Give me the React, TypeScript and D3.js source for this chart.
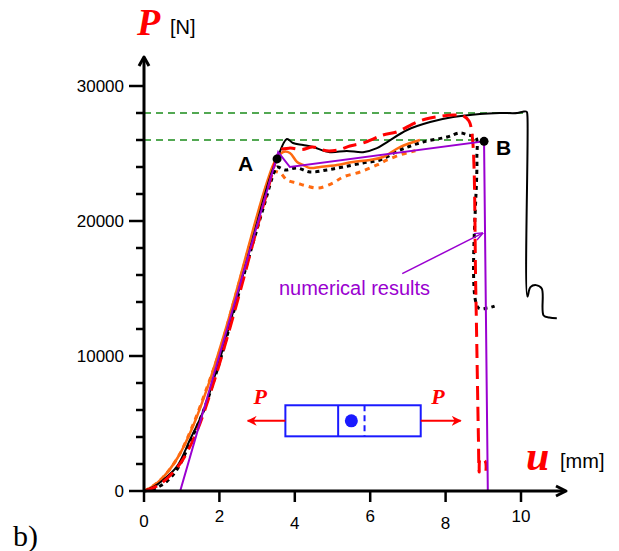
import React from "react";
import * as d3 from "d3";

// ---------- data (u [mm], P [N]) ----------
const xTicks = [0, 2, 4, 6, 8, 10];
const yTicks = [0, 10000, 20000, 30000];
const yMinorTicks = [2000, 4000, 6000, 8000, 12000, 14000, 16000, 18000, 22000, 24000, 26000, 28000];
const refLevels = [28000, 26000];

const expBlackSolid: [number, number][] = [
  [0, 0], [0.25, 300], [0.5, 800], [0.87, 1800], [1.22, 3800], [1.57, 5900], [1.94, 9100],
  [2.2, 11600], [2.5, 14700], [2.8, 17800], [3.1, 20900], [3.35, 23300], [3.53, 24600],
  [3.79, 26070], [3.95, 25780], [4.22, 25630], [4.48, 25480], [4.93, 25100], [5.38, 25190],
  [5.81, 25100], [6.18, 25400], [6.45, 25850], [6.98, 26740], [7.59, 27330], [8.2, 27700],
  [8.91, 27930], [9.44, 28000], [9.9, 28000], [10.05, 28100], [10.15, 28100], [10.17, 27800],
  [10.17, 14400], [10.25, 15100], [10.4, 15250], [10.55, 15000], [10.6, 13000],
  [10.75, 12850], [10.95, 12800],
];

const expBlackDotted: [number, number][] = [
  [0, 0], [0.3, 200], [0.6, 700], [0.9, 1700], [1.25, 3800], [1.6, 6100], [2.0, 9500],
  [2.4, 13500], [2.8, 17500], [3.2, 21300], [3.45, 23600], [3.53, 24000], [3.74, 23780],
  [4.06, 23930], [4.4, 23630], [4.85, 23780], [5.28, 24000], [5.81, 24300], [6.26, 24520],
  [6.79, 25260], [7.4, 25850], [8.04, 26220], [8.38, 26520], [8.59, 26370], [8.8, 26200],
  [8.83, 24500], [8.86, 13600], [9.1, 13550], [9.3, 13700],
];

const expRedDashed: [number, number][] = [
  [0, 0], [0.3, 300], [0.6, 900], [1.0, 2200], [1.4, 4400], [1.8, 7600], [2.2, 11300],
  [2.6, 15300], [3.0, 19500], [3.3, 22500], [3.52, 24700], [3.61, 25260], [3.87, 25400],
  [4.2, 25300], [4.48, 25480], [4.85, 25200], [5.2, 25300], [5.46, 25560], [5.81, 25780],
  [6.34, 26370], [6.71, 26600], [7.24, 27330], [7.59, 27630], [8.2, 27850], [8.46, 27800],
  [8.62, 27400], [8.71, 26200], [8.8, 15000], [8.87, 4000], [8.89, 1400], [8.92, 2400],
  [9.05, 2200], [9.07, 1500],
];

const expOrangeSolid: [number, number][] = [
  [0, 0], [0.2, 300], [0.5, 1000], [0.9, 2500], [1.3, 4800], [1.7, 7800], [1.94, 9900],
  [2.2, 12300], [2.5, 15300], [2.8, 18400], [3.1, 21400], [3.3, 23200], [3.47, 24400],
  [3.69, 25110], [3.87, 25040], [4.06, 24370], [4.22, 24150], [4.4, 23930], [4.67, 24000],
  [5.12, 24150], [5.54, 24370], [5.99, 24520], [6.34, 24740], [6.79, 25480], [7.32, 26000],
];

const expOrangeDotted: [number, number][] = [
  [0, 0], [0.2, 300], [0.5, 1000], [0.9, 2500], [1.3, 4900], [1.7, 7900], [2.0, 10300],
  [2.4, 14200], [2.8, 18200], [3.1, 21200], [3.3, 23000], [3.42, 23630], [3.61, 23560],
  [3.79, 23040], [4.06, 22810], [4.32, 22590], [4.62, 22440], [5.01, 22810], [5.28, 23260],
  [5.73, 23630], [6.18, 24150], [6.45, 24520], [6.79, 24900], [7.06, 25110], [7.2, 25200],
];

const numerical: [number, number][] = [
  [0.96, 0], [3.56, 25100], [3.87, 24000], [9.02, 25900], [9.12, 0],
];

const pointA: [number, number] = [3.53, 24600];
const pointB: [number, number] = [9.02, 25900];
const annotationText = "numerical results";

// ---------- layout ----------
const W = 619;
const H = 551;
const x = d3.scaleLinear().domain([0, 10]).range([144, 521]);
const y = d3.scaleLinear().domain([0, 30000]).range([491, 86]);

const sans = "Arial, 'Liberation Sans', Helvetica, sans-serif";
const serif = "'Times New Roman', 'Liberation Serif', serif";

const line = d3
  .line<[number, number]>()
  .x((d) => x(d[0]))
  .y((d) => y(d[1]))
  .curve(d3.curveCatmullRom.alpha(0.5));

const straight = d3
  .line<[number, number]>()
  .x((d) => x(d[0]))
  .y((d) => y(d[1]));

export default function App() {
  const x0 = x(0);
  const y0 = y(0);
  const purple = "#9a00d0";
  const red = "#ff0000";
  const orange = "#ff6a10";
  const blue = "#1a1aff";

  // inset drawing positions (in data space)
  const boxL = x(3.75), boxR = x(7.34), boxT = y(6350), boxB = y(4050);
  const boxMid = (boxT + boxB) / 2;
  const divider = x(5.15);
  const dashX = x(5.85);
  const dotX = x(5.5);

  return (
    <svg
      width={W}
      height={H}
      style={{ position: "absolute", left: 0, top: 0, background: "#fff" }}
      xmlns="http://www.w3.org/2000/svg"
    >
      <defs>
        <marker id="arrP" viewBox="0 0 10 10" refX="9" refY="5" markerWidth="5" markerHeight="5" orient="auto">
          <path d="M0,0 L10,5 L0,10 L3,5 Z" fill={red} />
        </marker>
        <marker id="arrV" viewBox="0 0 10 10" refX="9" refY="5" markerWidth="6" markerHeight="6" orient="auto">
          <path d="M0,1 L10,5 L0,9" fill="none" stroke={purple} strokeWidth={1.5} />
        </marker>
      </defs>

      {/* green reference lines */}
      {refLevels.map((v, i) => (
        <line
          key={v}
          x1={x0}
          x2={i === 0 ? x(10.15) : x(pointB[0])}
          y1={y(v)}
          y2={y(v)}
          stroke="#1a8c1a"
          strokeWidth={1.4}
          strokeDasharray="7,5"
        />
      ))}

      {/* curves */}
      <path d={line(expOrangeDotted) || ""} fill="none" stroke={orange} strokeWidth={3} strokeDasharray="5,5" />
      <path d={line(expBlackDotted) || ""} fill="none" stroke="#000" strokeWidth={3} strokeDasharray="4,4" />
      <path d={line(expOrangeSolid) || ""} fill="none" stroke={orange} strokeWidth={2.5} />
      <path d={line(expBlackSolid) || ""} fill="none" stroke="#000" strokeWidth={2} />
      <path d={line(expRedDashed) || ""} fill="none" stroke={red} strokeWidth={3} strokeDasharray="14,7" />
      <path d={straight(numerical) || ""} fill="none" stroke={purple} strokeWidth={2} />

      {/* points A and B */}
      <circle cx={x(pointA[0])} cy={y(pointA[1])} r={4.5} fill="#000" />
      <circle cx={x(pointB[0])} cy={y(pointB[1])} r={4.5} fill="#000" />
      <text x={x(pointA[0]) - 39} y={y(pointA[1]) + 12} fontFamily={sans} fontWeight="bold" fontSize={21} fill="#000">A</text>
      <text x={x(pointB[0]) + 12} y={y(pointB[1]) + 14} fontFamily={sans} fontWeight="bold" fontSize={21} fill="#000">B</text>

      {/* annotation */}
      <text x={x(3.58)} y={y(14500)} fontFamily={sans} fontSize={20} fill={purple}>{annotationText}</text>
      <line x1={x(6.85)} y1={y(16100)} x2={x(8.98)} y2={y(19100)} stroke={purple} strokeWidth={1.5} markerEnd="url(#arrV)" />

      {/* inset specimen */}
      <rect x={boxL} y={boxT} width={boxR - boxL} height={boxB - boxT} fill="none" stroke={blue} strokeWidth={2} />
      <line x1={divider} x2={divider} y1={boxT} y2={boxB} stroke={blue} strokeWidth={2} />
      <line x1={dashX} x2={dashX} y1={boxT} y2={boxB} stroke={blue} strokeWidth={2} strokeDasharray="6,4" />
      <circle cx={dotX} cy={boxMid} r={6.5} fill={blue} />
      <line x1={boxL} x2={x(2.75)} y1={boxMid} y2={boxMid} stroke={red} strokeWidth={2} markerEnd="url(#arrP)" />
      <line x1={boxR} x2={x(8.4)} y1={boxMid} y2={boxMid} stroke={red} strokeWidth={2} markerEnd="url(#arrP)" />
      <text x={x(3.08)} y={y(6450)} textAnchor="middle" fontFamily={serif} fontStyle="italic" fontWeight="bold" fontSize={22} fill={red}>P</text>
      <text x={x(7.8)} y={y(6450)} textAnchor="middle" fontFamily={serif} fontStyle="italic" fontWeight="bold" fontSize={22} fill={red}>P</text>

      {/* axes */}
      <line x1={x0} x2={x0} y1={y0 + 1} y2={60} stroke="#000" strokeWidth={3} />
      <path d={`M${x0 - 5},${66} L${x0},${57} L${x0 + 5},${66}`} fill="none" stroke="#000" strokeWidth={3} strokeLinejoin="round" />
      <line x1={x0 - 1} x2={563} y1={y0} y2={y0} stroke="#000" strokeWidth={3} />
      <path d={`M${556},${y0 - 5} L${566},${y0} L${556},${y0 + 5}`} fill="none" stroke="#000" strokeWidth={3} strokeLinejoin="round" />

      {yTicks.map((t) => (
        <g key={`yt${t}`}>
          <line x1={x0 - 15} x2={x0} y1={y(t)} y2={y(t)} stroke="#000" strokeWidth={2.5} />
          <text x={x0 - 20} y={y(t)} dy="0.35em" textAnchor="end" fontFamily={sans} fontSize={17} fill="#000">
            {t}
          </text>
        </g>
      ))}
      {yMinorTicks.map((t) => (
        <line key={`ym${t}`} x1={x0 - 8} x2={x0} y1={y(t)} y2={y(t)} stroke="#000" strokeWidth={2.5} />
      ))}
      {xTicks.map((t, i) => (
        <g key={`xt${t}`}>
          <line x1={x(t)} x2={x(t)} y1={y0} y2={y0 + 11} stroke="#000" strokeWidth={2.5} />
          <text
            x={x(t)}
            y={y0 + (i === 0 ? 30 : i % 2 === 1 ? 25 : 32)}
            dy="0.35em"
            textAnchor="middle"
            fontFamily={sans}
            fontSize={17}
            fill="#000"
          >
            {t}
          </text>
        </g>
      ))}

      {/* axis titles */}
      <text x={137} y={35} fontFamily={serif} fontStyle="italic" fontWeight="bold" fontSize={38} fill={red}>P</text>
      <text x={170} y={34} fontFamily={sans} fontSize={20} fill="#000">[N]</text>
      <text x={526} y={470} fontFamily={serif} fontStyle="italic" fontWeight="bold" fontSize={42} fill={red}>u</text>
      <text x={560} y={468} fontFamily={sans} fontSize={20} fill="#000">[mm]</text>

      <text x={13} y={546} fontFamily={serif} fontSize={30} fill="#000">b)</text>
    </svg>
  );
}
